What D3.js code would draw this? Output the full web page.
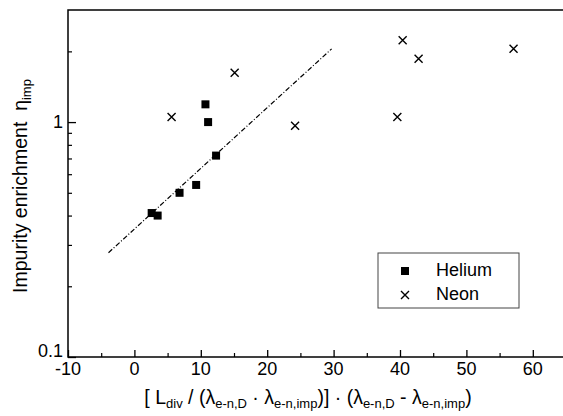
<!DOCTYPE html>
<html>
<head>
<meta charset="utf-8">
<script src="https://cdn.jsdelivr.net/npm/d3@7"></script>
<style>
  body { margin: 0; background: #fff; overflow: hidden; }
  svg { display: block; font-family: Arial, "Liberation Sans", sans-serif; }
</style>
</head>
<body>
<div id="chart"></div>
<script>
// data
const heliumX = [2.6, 3.5, 6.8, 9.3, 12.3, 10.7, 11.1];
const heliumY = [0.41, 0.40, 0.50, 0.54, 0.72, 1.19, 1.00];

const neonX = [5.6, 15.1, 24.2, 39.6, 40.4, 42.8, 57.1];
const neonY = [1.05, 1.62, 0.965, 1.05, 2.23, 1.86, 2.05];

// end points of the dash-dot fit line
const fitX = [-3.9, 29.7];
const fitY = [0.278, 2.05];

const xMajor = [-10, 0, 10, 20, 30, 40, 50, 60];
const xMinor = [-5, 5, 15, 25, 35, 45, 55];
const yMajor = [0.1, 1];
const yMinor = [0.2, 0.3, 0.4, 0.5, 0.6, 0.7, 0.8, 0.9, 2];

const width = 563;
const height = 416;
const margin = {left: 68, right: -3, top: 10, bottom: 59};

const svg = d3.select("#chart")
  .append("svg")
  .attr("width", width)
  .attr("height", height);

// x goes a bit past the right edge, the frame is cut off like in the picture
let xScale = d3.scaleLinear()
  .domain([-10, 65])
  .range([margin.left, width - margin.right]);

let yScale = d3.scaleLog()
  .domain([0.1, 3])
  .range([height - margin.bottom, margin.top]);

// frame
svg.append("rect")
  .attr("x", margin.left)
  .attr("y", margin.top)
  .attr("width", xScale(65) - margin.left)
  .attr("height", height - margin.bottom - margin.top)
  .attr("fill", "none")
  .attr("stroke", "#000")
  .attr("stroke-width", 1.5);

// x axis, ticks pointing inward
const xAxis = svg.append("g")
  .attr("transform", `translate(0,${height - margin.bottom})`)
  .call(d3.axisTop(xScale).tickValues(xMajor).tickSize(7).tickFormat(""));
xAxis.select(".domain").remove();
xAxis.selectAll("line").attr("stroke-width", 1.3);

svg.append("g")
  .attr("transform", `translate(0,${height - margin.bottom})`)
  .call(d3.axisTop(xScale).tickValues(xMinor).tickSize(4).tickFormat(""))
  .call(g => g.select(".domain").remove())
  .selectAll("line").attr("stroke-width", 1.2);

svg.selectAll(".xlab")
  .data(xMajor)
  .enter()
  .append("text")
  .attr("class", "xlab")
  .attr("x", d => xScale(d))
  .attr("y", height - margin.bottom + 18)
  .attr("text-anchor", "middle")
  .attr("font-size", "18px")
  .text(d => d);

// y axis, ticks pointing inward
svg.append("g")
  .attr("transform", `translate(${margin.left},0)`)
  .call(d3.axisRight(yScale).tickValues(yMajor).tickSize(8).tickFormat(""))
  .call(g => g.select(".domain").remove())
  .selectAll("line").attr("stroke-width", 1.3);

svg.append("g")
  .attr("transform", `translate(${margin.left},0)`)
  .call(d3.axisRight(yScale).tickValues(yMinor).tickSize(4).tickFormat(""))
  .call(g => g.select(".domain").remove())
  .selectAll("line").attr("stroke-width", 1.2);

svg.selectAll(".ylab")
  .data(yMajor)
  .enter()
  .append("text")
  .attr("class", "ylab")
  .attr("x", margin.left - 5)
  .attr("y", d => yScale(d) + (d === 0.1 ? 0 : 6))
  .attr("text-anchor", "end")
  .attr("font-size", "18px")
  .text(d => d);

// fit line
const line = d3.line()
  .x(d => xScale(d[0]))
  .y(d => yScale(d[1]));

svg.append("path")
  .datum(fitX.map((x, i) => [x, fitY[i]]))
  .attr("d", line)
  .attr("fill", "none")
  .attr("stroke", "#000")
  .attr("stroke-width", 1.2)
  .attr("stroke-dasharray", "5,2,1,2");

// helium squares
const sq = 8;
svg.selectAll(".he")
  .data(heliumX.map((x, i) => ({x: x, y: heliumY[i]})))
  .enter()
  .append("rect")
  .attr("class", "he")
  .attr("x", d => xScale(d.x) - sq / 2)
  .attr("y", d => yScale(d.y) - sq / 2)
  .attr("width", sq)
  .attr("height", sq)
  .attr("fill", "#000");

// neon crosses
const cr = 4;
const crossPath = (cx, cy) =>
  `M${cx - cr},${cy - cr}L${cx + cr},${cy + cr}M${cx - cr},${cy + cr}L${cx + cr},${cy - cr}`;

svg.selectAll(".ne")
  .data(neonX.map((x, i) => ({x: x, y: neonY[i]})))
  .enter()
  .append("path")
  .attr("class", "ne")
  .attr("d", d => crossPath(xScale(d.x), yScale(d.y)))
  .attr("stroke", "#000")
  .attr("stroke-width", 1.4)
  .attr("fill", "none");

// legend
const legend = svg.append("g").attr("transform", "translate(378,253)");
legend.append("rect")
  .attr("width", 141)
  .attr("height", 55)
  .attr("fill", "#fff")
  .attr("stroke", "#444")
  .attr("stroke-width", 1);
legend.append("rect")
  .attr("x", 27 - sq / 2)
  .attr("y", 18 - sq / 2)
  .attr("width", sq)
  .attr("height", sq)
  .attr("fill", "#000");
legend.append("path")
  .attr("d", crossPath(27, 42))
  .attr("stroke", "#000")
  .attr("stroke-width", 1.4);
legend.append("text")
  .attr("x", 58).attr("y", 23)
  .attr("font-size", "18px")
  .text("Helium");
legend.append("text")
  .attr("x", 58).attr("y", 47)
  .attr("font-size", "18px")
  .text("Neon");

// axis titles
const xt = svg.append("text")
  .attr("x", 308)
  .attr("y", 404)
  .attr("text-anchor", "middle")
  .attr("font-size", "19.5px");
xt.append("tspan").text("[ L");
xt.append("tspan").attr("font-size", "13px").attr("dy", 4).text("div");
xt.append("tspan").attr("dy", -4).text(" / (λ");
xt.append("tspan").attr("font-size", "13px").attr("dy", 4).text("e-n,D");
xt.append("tspan").attr("dy", -4).text(" · λ");
xt.append("tspan").attr("font-size", "13px").attr("dy", 4).text("e-n,imp");
xt.append("tspan").attr("dy", -4).text(")] · (λ");
xt.append("tspan").attr("font-size", "13px").attr("dy", 4).text("e-n,D");
xt.append("tspan").attr("dy", -4).text(" - λ");
xt.append("tspan").attr("font-size", "13px").attr("dy", 4).text("e-n,imp");
xt.append("tspan").attr("dy", -4).text(")");

const yt = svg.append("text")
  .attr("transform", "translate(27,186) rotate(-90)")
  .attr("text-anchor", "middle")
  .attr("font-size", "19.5px")
  .attr("xml:space", "preserve")
  .style("white-space", "pre");
yt.append("tspan").text("Impurity enrichment  η");
yt.append("tspan").attr("font-size", "13px").attr("dy", 4).text("imp");
</script>
</body>
</html>
